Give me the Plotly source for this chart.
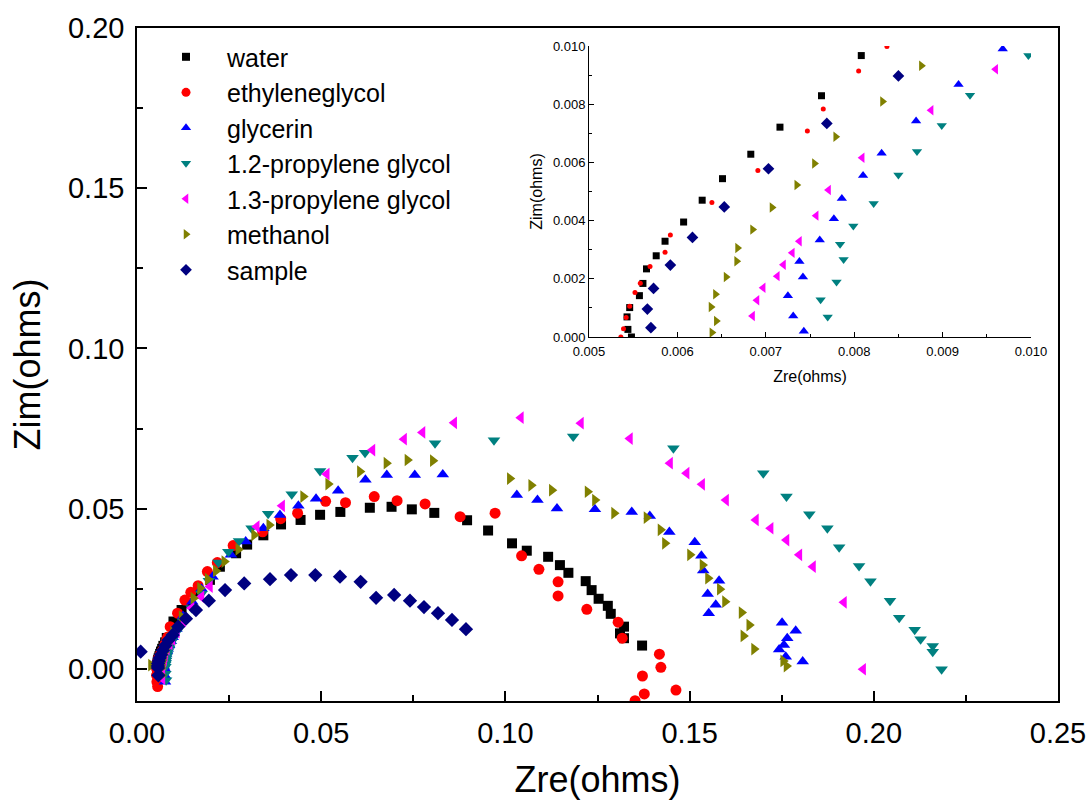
import plotly.graph_objects as go

# ---------------- data (Zre, Zim in ohms) ----------------
water_x = [0.00548, 0.00544, 0.00543, 0.00546, 0.00557, 0.00561, 0.00565, 0.00576, 0.00586, 0.00607,
           0.00628, 0.00651, 0.00683, 0.00716, 0.00763, 0.00808, 0.0099, 0.0121, 0.0135, 0.0162,
           0.0198, 0.0225, 0.0269, 0.0299, 0.0343, 0.0391, 0.0444, 0.0497, 0.0552, 0.0632,
           0.0691, 0.0746, 0.0807, 0.0896, 0.0953, 0.1018, 0.1058, 0.1116, 0.1148, 0.1171,
           0.1218, 0.1234, 0.1253, 0.1278, 0.1286, 0.1322, 0.1311, 0.1322, 0.1371]
water_y = [0.0, 0.00026, 0.00069, 0.00101, 0.00142, 0.00184, 0.00234, 0.00279, 0.00329, 0.00395,
           0.0047, 0.00544, 0.00628, 0.00721, 0.00829, 0.00967, 0.0148, 0.0184, 0.0205, 0.0236,
           0.0278, 0.0319, 0.0361, 0.0388, 0.0417, 0.0451, 0.0465, 0.0481, 0.049, 0.0503,
           0.0506, 0.0498, 0.0487, 0.0464, 0.0432, 0.0392, 0.0369, 0.035, 0.0324, 0.03,
           0.0274, 0.0246, 0.0219, 0.0197, 0.0172, 0.0132, 0.0111, 0.0096, 0.0073]

eg_x = [0.0056, 0.0054, 0.0053, 0.00536, 0.00539, 0.00542, 0.00546, 0.00552, 0.00558, 0.00569,
        0.00586, 0.00592, 0.00639, 0.00691, 0.00747, 0.00765, 0.00805, 0.00837, 0.009, 0.011,
        0.013, 0.0146, 0.0166, 0.0191, 0.0218, 0.0261, 0.0341, 0.039, 0.0436, 0.0512,
        0.0566, 0.0644, 0.0706, 0.0782, 0.0877, 0.0972, 0.1044, 0.1091, 0.1143, 0.1143,
        0.1221, 0.1306, 0.1317, 0.1418, 0.1422, 0.1372, 0.1377, 0.1352, 0.1463]
eg_y = [-0.0055, -0.004, -0.002, 0.0, 0.00028, 0.00067, 0.00106, 0.00153, 0.00185, 0.00242,
        0.00291, 0.0035, 0.00462, 0.00572, 0.00708, 0.00783, 0.00914, 0.00998, 0.0132, 0.0174,
        0.0215, 0.0239, 0.026, 0.0304, 0.0332, 0.0385, 0.0428, 0.0469, 0.0486, 0.0523,
        0.0519, 0.0538, 0.0525, 0.0515, 0.0475, 0.0486, 0.0353, 0.0311, 0.0272, 0.0228,
        0.0186, 0.0146, 0.0096, 0.0046, 0.0005, -0.0022, -0.0078, -0.0099, -0.0066]

gl_x = [0.0076, 0.0075, 0.00743, 0.00731, 0.00725, 0.00742, 0.00738, 0.00761, 0.00777, 0.00786,
        0.0081, 0.00831, 0.0087, 0.00918, 0.00968, 0.0107, 0.0125, 0.015, 0.0175, 0.0205,
        0.0255, 0.0295, 0.0343, 0.0388, 0.0438, 0.0486, 0.0546, 0.062, 0.0678, 0.0754,
        0.083, 0.1031, 0.1087, 0.114, 0.1243, 0.1343, 0.1392, 0.1445, 0.1514, 0.1532,
        0.1537, 0.158, 0.1549, 0.1571, 0.1552, 0.1751, 0.1788, 0.1765, 0.1756, 0.1743,
        0.1761, 0.1807]
gl_y = [-0.004, -0.002, 0.0002, 0.00072, 0.00142, 0.00206, 0.00259, 0.00333, 0.00406, 0.00476,
        0.00555, 0.00631, 0.00742, 0.00868, 0.0099, 0.0125, 0.0165, 0.021, 0.025, 0.0288,
        0.0356, 0.0398, 0.0439, 0.048, 0.0509, 0.0531, 0.0556, 0.059, 0.0605, 0.0605,
        0.0607, 0.0543, 0.0527, 0.0501, 0.0498, 0.049, 0.0477, 0.0427, 0.0395, 0.0353,
        0.0307, 0.0275, 0.0234, 0.02, 0.0174, 0.0144, 0.0119, 0.0096, 0.0075, 0.0061,
        0.0038, 0.0023]

p12_x = [0.0079, 0.0077, 0.0077, 0.00762, 0.0078, 0.00788, 0.00784, 0.00799, 0.00822, 0.0085,
         0.00871, 0.00899, 0.00931, 0.00997, 0.0108, 0.0125, 0.0148, 0.0175, 0.0195, 0.0221,
         0.0248, 0.0277, 0.0311, 0.0356, 0.042, 0.0497, 0.0585, 0.0619, 0.0809, 0.0969,
         0.1184, 0.1456, 0.17, 0.1763, 0.1825, 0.1874, 0.1906, 0.196, 0.1991, 0.2044,
         0.2069, 0.2111, 0.2127, 0.216, 0.216, 0.2184]
p12_y = [-0.0035, -0.0015, 0.00069, 0.00128, 0.00189, 0.00266, 0.00319, 0.00381, 0.00459, 0.00557,
         0.00637, 0.00727, 0.00831, 0.00967, 0.0115, 0.0148, 0.019, 0.0235, 0.0275, 0.0332,
         0.0366, 0.0399, 0.0439, 0.0484, 0.0545, 0.0618, 0.0659, 0.0675, 0.0704, 0.0714,
         0.0725, 0.0689, 0.0611, 0.0538, 0.0483, 0.0439, 0.038, 0.0321, 0.0274, 0.0213,
         0.016, 0.0122, 0.0093, 0.0072, 0.0054, -0.0001]

p13_x = [0.0069, 0.0068, 0.00685, 0.0069, 0.00697, 0.00713, 0.0072, 0.0073, 0.00738, 0.00757,
         0.00771, 0.00809, 0.00887, 0.0096, 0.0108, 0.0125, 0.0148, 0.0175, 0.0198, 0.0325,
         0.0394, 0.0515, 0.0639, 0.0725, 0.0775, 0.0861, 0.1042, 0.1205, 0.1338, 0.1447,
         0.1492, 0.1534, 0.1599, 0.168, 0.172, 0.1763, 0.1798, 0.1835, 0.1919, 0.1971]
p13_y = [-0.003, -0.001, 0.00072, 0.00126, 0.00169, 0.00209, 0.00248, 0.00289, 0.00329, 0.00417,
         0.00505, 0.00616, 0.00779, 0.0092, 0.0115, 0.015, 0.019, 0.0225, 0.0257, 0.0444,
         0.0509, 0.0608, 0.0683, 0.0717, 0.0738, 0.0768, 0.0784, 0.0767, 0.0719, 0.0642,
         0.0611, 0.0576, 0.0527, 0.0465, 0.0439, 0.0402, 0.0356, 0.0319, 0.0208, -0.0001]

me_x = [0.0038, 0.0066, 0.00639, 0.00644, 0.00638, 0.00643, 0.00655, 0.00667, 0.00668, 0.00685,
        0.00707, 0.00735, 0.00755, 0.00779, 0.00832, 0.00876, 0.0098, 0.0121, 0.0153, 0.0171,
        0.0192, 0.0214, 0.0237, 0.0275, 0.0318, 0.0359, 0.0451, 0.0519, 0.0605, 0.0677,
        0.0734, 0.0803, 0.1012, 0.107, 0.1126, 0.1223, 0.1243, 0.1295, 0.1383, 0.1421,
        0.1433, 0.1501, 0.1535, 0.155, 0.1582, 0.1596, 0.1641, 0.1662, 0.1646, 0.1675,
        0.1754, 0.1763]
me_y = [0.0012, -0.002, 0.00015, 0.00055, 0.00103, 0.00147, 0.00206, 0.0026, 0.00306, 0.00369,
        0.00445, 0.00522, 0.00596, 0.00688, 0.00809, 0.00932, 0.0115, 0.0163, 0.0221, 0.0252,
        0.028, 0.0306, 0.0335, 0.0373, 0.0418, 0.0449, 0.0538, 0.0577, 0.0616, 0.0642,
        0.0652, 0.065, 0.0594, 0.0573, 0.0558, 0.0553, 0.0527, 0.0486, 0.0472, 0.0434,
        0.0392, 0.0356, 0.0324, 0.0283, 0.0249, 0.021, 0.0176, 0.0137, 0.0103, 0.0062,
        0.0025, 0.0009]

sa_x = [0.001, 0.0058, 0.0057, 0.00566, 0.00573, 0.00592, 0.00617, 0.00653, 0.00703, 0.00769,
        0.0085, 0.0097, 0.0112, 0.0133, 0.016, 0.0195, 0.0239, 0.0291, 0.0361, 0.0418,
        0.0484, 0.0551, 0.0607, 0.0649, 0.0698, 0.0741, 0.0779, 0.0817, 0.0855, 0.0893]
sa_y = [0.0054, -0.002, 0.00032, 0.00096, 0.00167, 0.00247, 0.00342, 0.00447, 0.00578, 0.00734,
        0.00897, 0.0106, 0.0132, 0.0157, 0.0184, 0.0213, 0.0246, 0.0267, 0.028, 0.0293,
        0.0293, 0.0288, 0.0272, 0.0222, 0.0231, 0.0213, 0.0193, 0.0174, 0.0153, 0.0124]

series_names = ["water", "ethyleneglycol", "glycerin", "1.2-propylene glycol",
                "1.3-propylene glycol", "methanol", "sample"]
series_x = [water_x, eg_x, gl_x, p12_x, p13_x, me_x, sa_x]
series_y = [water_y, eg_y, gl_y, p12_y, p13_y, me_y, sa_y]
colors = ["#000000", "#FF0000", "#0000FF", "#008080", "#FF00FF", "#808000", "#000080"]
symbols = ["square", "circle", "triangle-up", "triangle-down", "triangle-left", "triangle-right", "diamond"]
main_sizes = [10, 11, 11, 11, 11, 11, 11]
inset_sizes = [7, 5, 9, 9, 9, 9, 9]
legend_sizes = [8, 9, 9, 9, 9, 9, 9]

FONT = "Liberation Sans, Arial, sans-serif"

fig = go.Figure()
for name, xs, ys, c, s, sm in zip(series_names, series_x, series_y, colors, symbols, main_sizes):
    fig.add_trace(go.Scatter(x=xs, y=ys, mode="markers", name=name, showlegend=False,
                             legendgroup=name,
                             marker=dict(symbol=s, color=c, size=sm, line=dict(width=0)),
                             xaxis="x", yaxis="y"))
for name, xs, ys, c, s, si in zip(series_names, series_x, series_y, colors, symbols, inset_sizes):
    fig.add_trace(go.Scatter(x=xs, y=ys, mode="markers", name=name, showlegend=False,
                             legendgroup=name,
                             marker=dict(symbol=s, color=c, size=si, line=dict(width=0)),
                             xaxis="x2", yaxis="y2"))
# legend entries (smaller symbols, as in the original legend)
for name, c, s, sl in zip(series_names, colors, symbols, legend_sizes):
    fig.add_trace(go.Scatter(x=[None], y=[None], mode="markers", name=name, showlegend=True,
                             legendgroup=name,
                             marker=dict(symbol=s, color=c, size=sl, line=dict(width=0)),
                             xaxis="x", yaxis="y"))

axis_common = dict(showgrid=False, zeroline=False, showline=True, linecolor="black",
                   ticks="inside", tickcolor="black", automargin=False)

fig.update_layout(
    width=1090, height=800,
    margin=dict(l=137, r=32, t=28, b=99, autoexpand=False),
    paper_bgcolor="white", plot_bgcolor="white",
    font=dict(family=FONT, color="black"),
    showlegend=True,
    legend=dict(x=0.0087, y=0.991, xanchor="left", yanchor="top",
                bgcolor="rgba(0,0,0,0)", font=dict(size=25, family=FONT),
                itemsizing="trace", itemwidth=72, tracegroupgap=0),
    xaxis=dict(**axis_common, range=[0, 0.25], tick0=0, dtick=0.05, tickformat=".2f",
               linewidth=1.5, ticklen=10, tickwidth=1.5, mirror=True, ticklabelstandoff=5,
               minor=dict(ticks="inside", dtick=0.025, ticklen=6, tickwidth=1.5, tickcolor="black"),
               tickfont=dict(size=29, family=FONT),
               title=dict(text="Zre(ohms)", font=dict(size=36, family=FONT), standoff=21),
               domain=[0, 1], anchor="y"),
    yaxis=dict(**axis_common, range=[-0.01, 0.20], tick0=0, dtick=0.05, tickformat=".2f",
               linewidth=1.5, ticklen=10, tickwidth=1.5, mirror=True, ticklabelstandoff=5,
               minor=dict(ticks="inside", tick0=0, dtick=0.025, ticklen=6, tickwidth=1.5, tickcolor="black"),
               tickfont=dict(size=29, family=FONT),
               title=dict(text="Zim(ohms)", font=dict(size=36, family=FONT), standoff=16),
               domain=[0, 1], anchor="x"),
    xaxis2=dict(**axis_common, range=[0.005, 0.010], tick0=0.005, dtick=0.001, tickformat=".3f",
                linewidth=1, ticklen=5, tickwidth=1, ticklabelstandoff=2,
                minor=dict(ticks="inside", dtick=0.0005, ticklen=3, tickwidth=1, tickcolor="black"),
                tickfont=dict(size=13, family=FONT),
                title=dict(text="Zre(ohms)", font=dict(size=16, family=FONT), standoff=13),
                domain=[0.4908, 0.9707], anchor="y2"),
    yaxis2=dict(**axis_common, range=[0, 0.010], tick0=0, dtick=0.002, tickformat=".3f",
                linewidth=1, ticklen=5, tickwidth=1,
                minor=dict(ticks="inside", tick0=0, dtick=0.001, ticklen=3, tickwidth=1, tickcolor="black"),
                tickfont=dict(size=13, family=FONT),
                title=dict(text="Zim(ohms)", font=dict(size=16, family=FONT), standoff=6),
                domain=[0.5409, 0.9733], anchor="x2"),
)

fig.write_html("out.html")
